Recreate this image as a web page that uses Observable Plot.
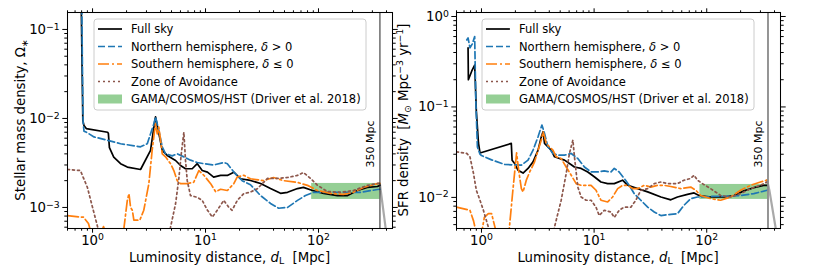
<!DOCTYPE html>
<html><head><meta charset="utf-8">
<script src="https://cdn.jsdelivr.net/npm/d3@7"></script>
<script src="https://cdn.jsdelivr.net/npm/@observablehq/plot@0.6"></script>
<style>
body{margin:0;background:#fff;}
#wrap{position:relative;width:830px;height:277px;font-family:"DejaVu Sans",sans-serif;}
#wrap svg{position:absolute;top:0;overflow:visible;}
</style></head><body><div id="wrap"></div>
<script>
// ---------- data ----------
const xMajor = [1, 10, 100];
const xMinor = [0.6,0.7,0.8,0.9,2,3,4,5,6,7,8,9,20,30,40,50,60,70,80,90,200,300,400];
const massMajor = [1e-3, 1e-2, 1e-1];
const massMinor = [6e-4,7e-4,8e-4,9e-4,2e-3,3e-3,4e-3,5e-3,6e-3,7e-3,8e-3,9e-3,2e-2,3e-2,4e-2,5e-2,6e-2,7e-2,8e-2,9e-2];
const sfrMajor = [1e-2, 1e-1, 1];
const sfrMinor = [5e-3,6e-3,7e-3,8e-3,9e-3,2e-2,3e-2,4e-2,5e-2,6e-2,7e-2,8e-2,9e-2,0.2,0.3,0.4,0.5,0.6,0.7,0.8,0.9];
const cutoffMpc = [350];
const gamaRangeMpc = [87, 350];
const gamaMassRange = [1.23e-3, 1.86e-3];
const gamaSfrRange = [0.0095, 0.0139];
const seriesNames = ["Full sky", "Northern hemisphere", "Southern hemisphere", "Zone of Avoidance", "GAMA/COSMOS/HST (Driver et al. 2018)"];

// stellar mass density [d_L (Mpc), Omega_*]
const massFull = [[0.79,0.3],[0.81,0.03],[0.82,0.0095],[0.84,0.0083],[0.88,0.0077],[1.36,0.0070],[1.38,0.0068],[1.41,0.0047],[1.54,0.00367],[1.77,0.0031],[2.03,0.00284],[2.66,0.00267],[3.26,0.00437],[3.56,0.0095],[3.61,0.0104],[3.86,0.0068],[4.14,0.00437],[4.58,0.00384],[5.43,0.00337],[6.01,0.00296],[6.65,0.00272],[7.62,0.00272],[8.45,0.0031],[9.35,0.0026],[10.4,0.00249],[11.8,0.00219],[13.6,0.00229],[15.6,0.00229],[17.8,0.00249],[20.4,0.0021],[25,0.00201],[30.7,0.00186],[37.6,0.00163],[46.1,0.00144],[53.2,0.00148],[65.2,0.00163],[73.6,0.00168],[88.5,0.00155],[111,0.00144],[147,0.00136],[181,0.00136],[221,0.00155],[271,0.00168],[333,0.00172],[350,0.00178]];
const massNorth = [[0.80,0.3],[0.815,0.03],[0.825,0.009],[0.84,0.0072],[0.90,0.0069],[1.03,0.0062],[1.35,0.0057],[1.77,0.0052],[2.66,0.0048],[3.05,0.0052],[3.49,0.0087],[3.61,0.0104],[3.86,0.0073],[4.14,0.0048],[4.43,0.0040],[5.07,0.0038],[5.62,0.0040],[6.43,0.0037],[7.36,0.0034],[8.45,0.0032],[9.66,0.0031],[11.8,0.0030],[14.5,0.0032],[15.6,0.0031],[17.8,0.0025],[21.1,0.0020],[25,0.0018],[30.7,0.00136],[37.6,0.00111],[44.3,0.00098],[53.2,0.0010],[65.2,0.0012],[76.7,0.00136],[90.3,0.00148],[120,0.00148],[166,0.00148],[235,0.00148],[333,0.00159],[350,0.0016]];
const massSouth = [[0.6,8.1e-4],[0.78,7.8e-4],[0.83,7.8e-4],[0.92,6.6e-4],[1.0,4.5e-4],[1.15,4.5e-4],[1.25,6.1e-4],[1.35,4.5e-4],[1.85,4.5e-4],[1.9,6.0e-4],[2.03,1.2e-3],[2.10,1.43e-3],[2.17,1.0e-3],[2.25,9.3e-4],[2.32,7.2e-4],[2.62,7.2e-4],[2.84,9.3e-4],[3.15,1.85e-3],[3.37,4.4e-3],[3.54,7.3e-3],[3.61,8.7e-3],[3.74,6.7e-3],[3.86,8.0e-3],[4.0,5.7e-3],[4.14,4.0e-3],[4.43,3.7e-3],[4.90,3.1e-3],[5.24,2.6e-3],[5.62,2.0e-3],[6.01,1.85e-3],[6.89,1.85e-3],[7.87,1.92e-3],[8.73,2.6e-3],[9.66,2.3e-3],[11.1,1.85e-3],[12.3,1.5e-3],[13.6,1.6e-3],[15.6,1.55e-3],[17.8,1.85e-3],[19.1,2.2e-3],[21.8,2.3e-3],[25,2.1e-3],[32.6,2.0e-3],[40,2.17e-3],[49,2.0e-3],[65.2,1.91e-3],[80,1.77e-3],[98,1.55e-3],[128,1.44e-3],[166,1.40e-3],[204,1.48e-3],[250,1.68e-3],[333,1.85e-3],[350,1.86e-3]];
const massZoA = [[0.6,2.67e-3],[0.78,2.6e-3],[0.90,1.68e-3],[1.0,1.0e-3],[1.11,6.0e-4],[1.2,4.5e-4],[4.6,4.5e-4],[4.9,6.0e-4],[5.43,1.1e-3],[5.8,2.1e-3],[6.1,4.0e-3],[6.43,7.0e-3],[6.65,3.37e-3],[6.89,2.0e-3],[7.36,1.36e-3],[8.45,1.3e-3],[9.35,1.2e-3],[10.4,9.3e-4],[11.5,7.8e-4],[12.7,9.3e-4],[14.5,1.2e-3],[16.1,1.0e-3],[17.2,9.3e-4],[19.1,1.2e-3],[21.8,1.43e-3],[25,1.49e-3],[28.7,1.62e-3],[35.4,2.12e-3],[43.4,2.12e-3],[53.2,2.17e-3],[65.2,2.29e-3],[73.6,2.47e-3],[85,2.12e-3],[98,1.77e-3],[120,1.51e-3],[157,1.48e-3],[204,1.55e-3],[271,1.77e-3],[333,1.86e-3],[350,1.87e-3]];
const massTail = [[350,0.00181],[392,0.0006],[410,0.0004]];

// SFR density [d_L (Mpc), Msun Mpc^-3 yr^-1]
const sfrFull = [[0.76,0.45],[0.765,0.2],[0.82,0.25],[0.87,0.29],[0.88,0.2],[0.90,0.09],[0.94,0.04],[0.97,0.031],[1.84,0.0395],[1.87,0.0258],[1.97,0.0237],[2.11,0.020],[2.34,0.0186],[2.59,0.0209],[2.87,0.0247],[3.18,0.0333],[3.40,0.0468],[3.52,0.0532],[3.63,0.0395],[3.89,0.0362],[4.16,0.0333],[4.45,0.0281],[4.93,0.0269],[5.46,0.0258],[6.04,0.0237],[6.69,0.0217],[7.67,0.0209],[8.79,0.0191],[10.1,0.0168],[11.5,0.0148],[13.2,0.0142],[15.1,0.0142],[17.9,0.0155],[19.9,0.0136],[24.4,0.0125],[29.9,0.0115],[39.2,0.0101],[48.0,0.0094],[55.0,0.0101],[67.5,0.0108],[77.2,0.0112],[85.5,0.0105],[108,0.0101],[142,0.0101],[175,0.0105],[214,0.0118],[262,0.0128],[321,0.0136],[344,0.0136]];
const sfrNorth = [[0.74,0.55],[0.76,0.58],[0.79,0.45],[0.83,0.5],[0.87,0.6],[0.89,0.12],[0.92,0.036],[0.97,0.030],[1.0,0.029],[1.23,0.026],[1.61,0.0231],[2.26,0.0227],[2.59,0.0258],[2.87,0.0333],[3.18,0.0468],[3.44,0.063],[3.63,0.051],[3.89,0.0362],[4.31,0.0306],[4.77,0.0293],[5.46,0.0293],[6.26,0.0306],[7.17,0.0269],[8.20,0.0217],[9.40,0.0191],[10.8,0.0191],[12.3,0.0196],[14.1,0.0191],[15.1,0.0209],[16.7,0.0191],[18.5,0.0162],[20.5,0.0136],[22.7,0.011],[26.0,0.0093],[29.9,0.0078],[34.2,0.0069],[39.2,0.0063],[48,0.0065],[55,0.0066],[63,0.0082],[72.1,0.0097],[82.7,0.0101],[94.6,0.0101],[116,0.0103],[152,0.0103],[200,0.0105],[262,0.0110],[344,0.0120]];
const sfrSouth = [[0.6,0.0078],[0.79,0.0072],[0.85,0.0055],[0.9,0.004],[1.0,0.004],[1.06,0.006],[1.15,0.0066],[1.23,0.0066],[1.3,0.005],[1.36,0.004],[1.75,0.004],[1.9,0.012],[2.05,0.031],[2.15,0.019],[2.26,0.0125],[2.34,0.0115],[2.50,0.0155],[2.68,0.0191],[2.96,0.0247],[3.18,0.0333],[3.40,0.043],[3.52,0.0532],[3.63,0.0468],[3.76,0.0395],[4.02,0.0362],[4.31,0.0333],[4.61,0.0281],[5.10,0.0269],[5.65,0.0217],[6.26,0.0176],[6.93,0.0142],[7.67,0.0136],[9.40,0.0136],[10.4,0.012],[11.5,0.0093],[13.2,0.0089],[14.6,0.0101],[16.2,0.0125],[17.9,0.0136],[19.9,0.0136],[22.0,0.0125],[24.4,0.0125],[27.9,0.0136],[31.9,0.013],[36.6,0.0136],[41.9,0.0136],[48,0.0132],[58.9,0.0125],[72.1,0.013],[80,0.012],[88.5,0.0105],[108,0.0097],[133,0.0093],[163,0.0101],[200,0.0120],[245,0.0136],[300,0.0148],[344,0.0155]];
const sfrZoA = [[0.6,0.0319],[0.74,0.0306],[0.79,0.0281],[0.85,0.0183],[0.90,0.012],[0.97,0.0093],[1.04,0.0072],[1.15,0.0047],[1.2,0.004],[4.3,0.004],[4.45,0.0047],[5.10,0.0093],[5.65,0.0183],[6.04,0.0306],[6.48,0.043],[6.69,0.0281],[7.17,0.013],[7.67,0.0101],[8.49,0.0093],[9.40,0.0093],[10.4,0.0078],[11.1,0.0063],[12.3,0.0072],[14.1,0.0069],[15.1,0.0060],[16.7,0.0072],[18.5,0.0078],[21.2,0.0078],[23.5,0.0093],[26.0,0.012],[29.9,0.0125],[34.2,0.0142],[39.2,0.0148],[44.9,0.0142],[55,0.0142],[63,0.0155],[72.1,0.0162],[77.2,0.0176],[82.7,0.0155],[91.6,0.0142],[108,0.0125],[133,0.0105],[163,0.0101],[200,0.011],[245,0.0125],[300,0.0136],[344,0.0148]];
const sfrTail = [[344,0.0155],[360,0.012],[408,0.0047],[430,0.003]];

// ---------- styling ----------
const H = 277, MT = 12, MB = 49;
const LW = 1.7;
const styles = [
  {color: "#000000", dash: null},
  {color: "#1f77b4", dash: "7,3"},
  {color: "#ff7f0e", dash: "11,3,2,3"},
  {color: "#8c564b", dash: "2,3"}
];
const GREEN = "#2ca02c";
const xDomain = [0.6, 452];

function panel(cfg) {
  const fmt = d => ("10^" + Math.round(Math.log10(d))).replace("-", "\u2212");
  const blank = () => "";
  const ax = (anchor, ticks, size, f) =>
    (anchor === "bottom" || anchor === "top")
      ? Plot.axisX(ticks, {anchor, tickSize: size, tickPadding: 2, tickFormat: f, label: null})
      : Plot.axisY(ticks, {anchor, tickSize: size, tickPadding: 3, tickFormat: f, label: null});
  const band = [{x1: gamaRangeMpc[0], x2: gamaRangeMpc[1], y1: cfg.band[0], y2: cfg.band[1]}];
  return Plot.plot({
    width: cfg.width, height: H,
    marginTop: MT, marginBottom: MB, marginLeft: cfg.ml, marginRight: cfg.mr,
    style: {fontFamily: "DejaVu Sans", fontSize: "13.3px", background: "transparent", overflow: "visible"},
    x: {type: "log", domain: xDomain},
    y: {type: "log", domain: cfg.yDomain},
    marks: [
      Plot.rect(band, {x1: "x1", x2: "x2", y1: "y1", y2: "y2", fill: GREEN, fillOpacity: 0.5}),
      Plot.line(cfg.tail, {x: d => d[0], y: d => d[1], stroke: "#9a9a9a", strokeWidth: 2.2, strokeOpacity: 0.85, clip: true}),
      ...cfg.series.map((s, i) => Plot.line(s, {
        x: d => d[0], y: d => d[1], stroke: styles[i].color, strokeWidth: LW,
        strokeDasharray: styles[i].dash, clip: true
      })),
      Plot.ruleX(cutoffMpc, {stroke: cfg.cutColor, strokeWidth: cfg.cutWidth}),
      Plot.text(cutoffMpc, {x: d => d, text: d => `${d} Mpc`, frameAnchor: "bottom", textAnchor: "start",
        rotate: -90, dx: -6, dy: -61, fontSize: 11, fill: "black"}),
      Plot.frame({stroke: "black", strokeWidth: 1.05}),
      ax("bottom", xMajor, 4.7, fmt), ax("bottom", xMinor, 2.7, blank),
      ax("top", xMajor, 4.7, blank), ax("top", xMinor, 2.7, blank),
      ax("left", cfg.yMajor, 4.7, fmt), ax("left", cfg.yMinor, 2.7, blank),
      ax("right", cfg.yMajor, 4.7, blank), ax("right", cfg.yMinor, 2.7, blank)
    ]
  });
}

function superscripts(svg) {
  d3.select(svg).selectAll("text").each(function() {
    const t = this.textContent;
    const m = /^10\^(.+)$/.exec(t);
    if (m) {
      const sel = d3.select(this);
      sel.text("10");
      sel.append("tspan").attr("dy", "-0.45em").attr("font-size", "0.7em").text(m[1]);
    }
  });
}

function addText(svg, x, y, parts, opts = {}) {
  const t = d3.select(svg).append("text")
    .attr("x", x).attr("y", y)
    .attr("font-family", "DejaVu Sans").attr("font-size", opts.size || 13.3)
    .attr("text-anchor", opts.anchor || "start").attr("fill", "black");
  if (opts.rotate) t.attr("transform", `rotate(${opts.rotate},${x},${y})`);
  if (opts.dy) t.attr("dy", opts.dy);
  parts.forEach(p => {
    const s = t.append("tspan").text(p.t);
    if (p.italic) s.attr("font-style", "italic");
    if (p.size) s.attr("font-size", p.size);
    if (p.dy) s.attr("dy", p.dy);
  });
  t.attr("xml:space", "preserve");
  return t;
}

function addLegend(svg, x0) {
  const g = d3.select(svg).append("g");
  g.append("rect").attr("x", x0).attr("y", 19).attr("width", 272).attr("height", 91)
    .attr("rx", 3).attr("fill", "white").attr("fill-opacity", 0.8)
    .attr("stroke", "#cccccc").attr("stroke-width", 1);
  const rows = [29, 46.5, 64, 81.5, 99];
  const labels = [
    [{t: seriesNames[0]}],
    [{t: seriesNames[1] + ", "}, {t: "\u03b4", italic: true}, {t: " > 0"}],
    [{t: seriesNames[2] + ", "}, {t: "\u03b4", italic: true}, {t: " \u2264 0"}],
    [{t: seriesNames[3]}],
    [{t: seriesNames[4]}]
  ];
  rows.forEach((y, i) => {
    if (i < 4) {
      g.append("line").attr("x1", x0 + 4).attr("x2", x0 + 28).attr("y1", y).attr("y2", y)
        .attr("stroke", styles[i].color).attr("stroke-width", LW)
        .attr("stroke-dasharray", styles[i].dash);
    } else {
      g.append("rect").attr("x", x0 + 4).attr("y", y - 4.5).attr("width", 24).attr("height", 9)
        .attr("fill", GREEN).attr("fill-opacity", 0.5);
    }
    addText(g.node(), x0 + 37, y, labels[i], {size: 11.5, dy: "0.36em"});
  });
}

const wrap = document.getElementById("wrap");

const left = panel({
  width: 395, ml: 67, mr: 3, yDomain: [5.8e-4, 0.155], yMajor: massMajor, yMinor: massMinor,
  series: [massFull, massNorth, massSouth, massZoA], tail: massTail, band: gamaMassRange,
  cutColor: "#222", cutWidth: 1
});
left.style.left = "0px";
wrap.appendChild(left);
superscripts(left);
addText(left, 229.5, 262, [{t: "Luminosity distance, "}, {t: "d", italic: true}, {t: "L", size: 9.3, dy: "2"}, {t: "  [Mpc]", dy: "-2"}], {anchor: "middle"});
addText(left, 20, 120, [{t: "Stellar mass density, \u03a9"}, {t: "\u2217", size: 9.3, dy: "3"}], {anchor: "middle", rotate: -90, dy: "0.35em"});
addLegend(left, 94);

const right = panel({
  width: 435, ml: 61, mr: 50, yDomain: [0.00453, 1.107], yMajor: sfrMajor, yMinor: sfrMinor,
  series: [sfrFull, sfrNorth, sfrSouth, sfrZoA], tail: sfrTail, band: gamaSfrRange,
  cutColor: "#8a8a8a", cutWidth: 1.8
});
right.style.left = "395px";
wrap.appendChild(right);
superscripts(right);
addText(right, 61 + (435 - 61 - 50) / 2, 262, [{t: "Luminosity distance, "}, {t: "d", italic: true}, {t: "L", size: 9.3, dy: "2"}, {t: "  [Mpc]", dy: "-2"}], {anchor: "middle"});
addText(right, 8, 120, [
  {t: "SFR density  ["}, {t: "M", italic: true}, {t: "\u2299", size: 9.3, dy: "3"},
  {t: " Mpc", dy: "-3"}, {t: "\u22123", size: 9.3, dy: "-5"}, {t: " yr", dy: "5"},
  {t: "\u22121", size: 9.3, dy: "-5"}, {t: "]", dy: "5"}
], {anchor: "middle", rotate: -90, dy: "0.35em"});
addLegend(right, 87);
</script></body></html>
